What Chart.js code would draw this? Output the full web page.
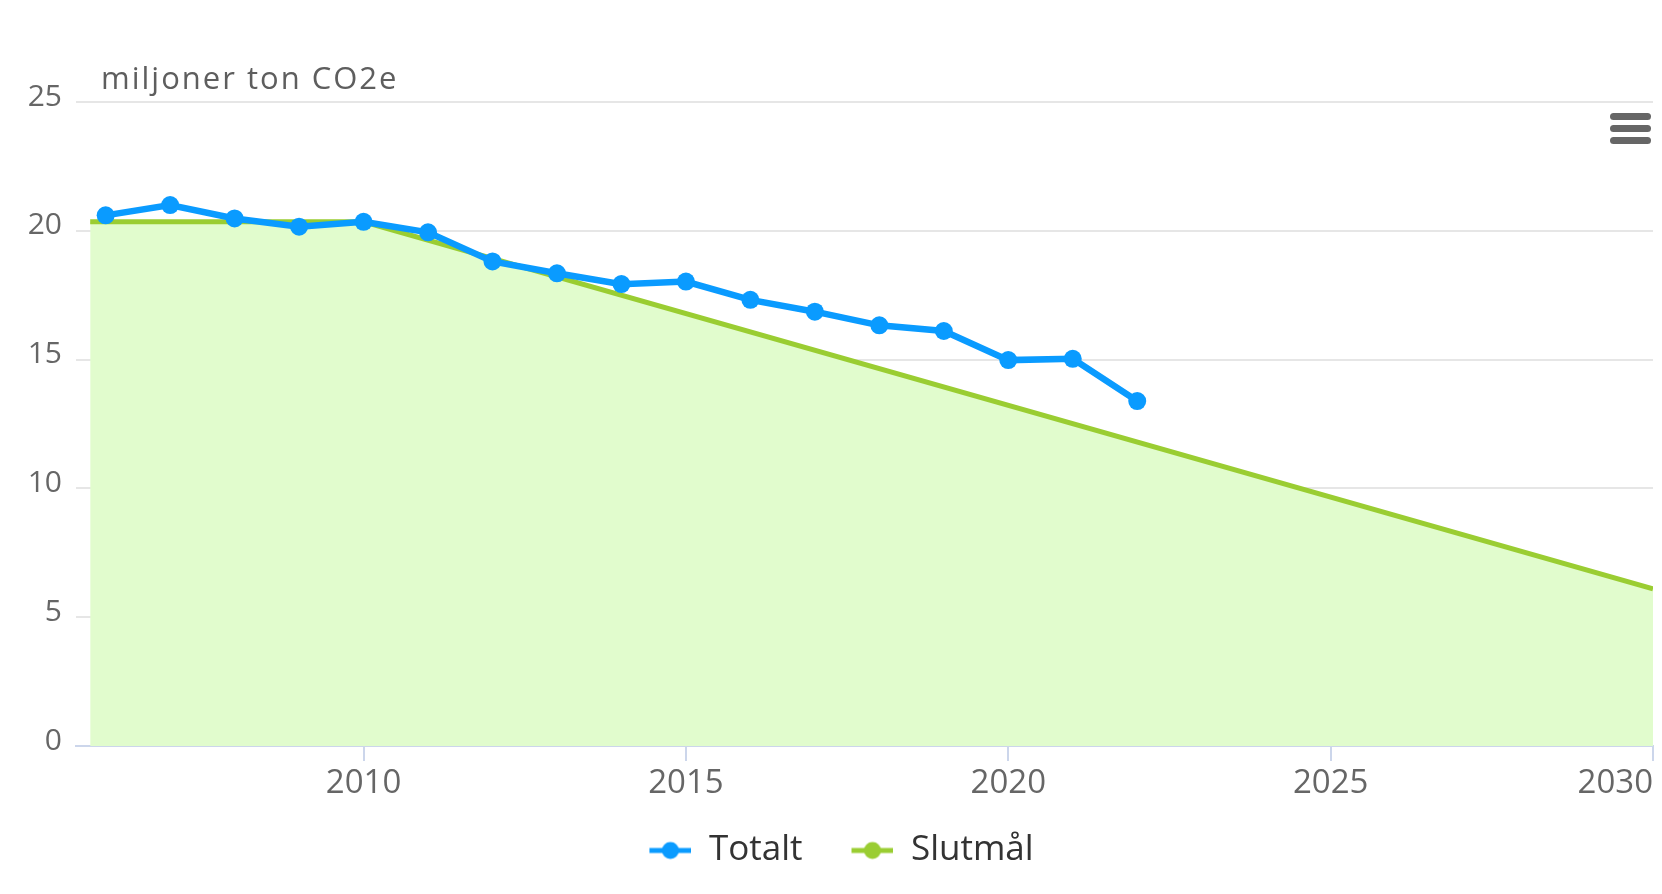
<!DOCTYPE html>
<html>
<head>
<meta charset="utf-8">
<script src="https://cdn.jsdelivr.net/npm/chart.js@4/dist/chart.umd.min.js"></script>
<style>
  body { margin: 0; background: #fff; }
  #wrap { position: relative; width: 1662px; height: 894px; }
  #menu { position: absolute; left: 1610px; top: 113px; width: 41px; }
  #menu div { height: 7px; background: #666; border-radius: 4px; margin-bottom: 5px; }
</style>
</head>
<body>
<div id="wrap">
  <canvas id="chartjs-0" width="1662" height="894"></canvas>
  <div id="menu"><div></div><div></div><div></div></div>
</div>
<script>
/* Utslapp, miljoner ton CO2e */
var yTitle = "miljoner ton CO2e";

/* Totalt - measured emissions */
var years = [2006, 2007, 2008, 2009, 2010, 2011, 2012, 2013, 2014, 2015, 2016, 2017, 2018, 2019, 2020, 2021, 2022];
var totalt = [20.6, 21.0, 20.48, 20.16, 20.35, 19.94, 18.81, 18.35, 17.93, 18.03, 17.32, 16.86, 16.33, 16.11, 14.98, 15.03, 13.39];

/* Slutmal - target path */
var goalYears = [2005.76, 2010, 2030];
var goalValues = [20.35, 20.35, 6.1];

var tickYears = [2010, 2015, 2020, 2025, 2030];
var yTicks = [0, 5, 10, 15, 20, 25];

var blue = "#0a9bff";
var green = "#9acd32";

/* legend symbols: line with a dot, like the original.
   blank space on the left gives the gap between the two legend items */
var symW = 42, symGap = 26;
function legendSymbol(color) {
  var c = document.createElement("canvas");
  c.width = symW + symGap; c.height = 20;
  var g = c.getContext("2d");
  g.strokeStyle = color; g.lineWidth = 5;
  g.beginPath(); g.moveTo(symGap, 10); g.lineTo(symGap + symW, 10); g.stroke();
  g.fillStyle = color;
  g.beginPath(); g.arc(symGap + symW / 2, 10, 8.5, 0, Math.PI * 2); g.fill();
  return c;
}
var symbols = [legendSymbol(blue), legendSymbol(green)];

var axisTitle = {
  id: "axisTitle",
  afterDraw: function (chart) {
    var ctx = chart.ctx;
    ctx.save();
    ctx.font = '31px "Open Sans"';
    ctx.fillStyle = "#5e5e5e";
    ctx.letterSpacing = "2px";
    ctx.textBaseline = "middle";
    ctx.fillText(yTitle, chart.chartArea.left + 25, chart.chartArea.top - 22);
    ctx.restore();
  }
};

Chart.defaults.font.family = '"Open Sans", sans-serif';

var ctx = document.getElementById("chartjs-0");
var myChart = new Chart(ctx, {
  type: "line",
  data: {
    datasets: [
      {
        label: "Totalt",
        data: years.map(function (y, i) { return { x: y, y: totalt[i] }; }),
        borderColor: blue,
        backgroundColor: blue,
        borderWidth: 6.5,
        pointRadius: 9,
        pointBorderWidth: 0,
        pointBackgroundColor: blue,
        tension: 0,
        fill: false
      },
      {
        label: "Slutmål",
        data: goalYears.map(function (y, i) { return { x: y, y: goalValues[i] }; }),
        borderColor: green,
        backgroundColor: "#e1fccd",
        borderWidth: 5,
        pointRadius: 0,
        tension: 0,
        fill: "origin"
      }
    ]
  },
  options: {
    responsive: false,
    animation: false,
    events: [],
    layout: { padding: { top: 102, right: 5, left: 0, bottom: 16 } },
    scales: {
      x: {
        type: "linear",
        min: 2005.54,
        max: 2030,
        afterBuildTicks: function (s) { s.ticks = tickYears.map(function (v) { return { value: v }; }); },
        afterFit: function (s) { s.height = 64; s.paddingRight = 0; s.paddingLeft = 0; },
        ticks: {
          autoSkip: false,
          maxRotation: 0,
          color: "#666666",
          font: { size: 33 },
          padding: 3,
          callback: function (v) {
            return v === 2030 ? "2030\u2007\u2007\u2007\u2007" : String(v);
          }
        },
        grid: { drawOnChartArea: false, color: "#ccd6eb", lineWidth: 2, tickLength: 15 },
        border: { color: "#ccd6eb", width: 2 }
      },
      y: {
        min: 0,
        max: 25,
        afterBuildTicks: function (s) { s.ticks = yTicks.map(function (v) { return { value: v }; }); },
        afterFit: function (s) { s.width = 76; },
        ticks: { color: "#666666", font: { size: 30 }, padding: 14, labelOffset: -5 },
        grid: { color: "#e6e6e6", lineWidth: 2, drawTicks: false },
        border: { display: false }
      }
    },
    plugins: {
      tooltip: { enabled: false },
      legend: {
        position: "bottom",
        labels: {
          color: "#333333",
          font: { size: 35 },
          usePointStyle: true,
          pointStyleWidth: symW + symGap,
          padding: 23,
          generateLabels: function (chart) {
            var items = Chart.defaults.plugins.legend.labels.generateLabels(chart);
            items.forEach(function (it, i) { it.pointStyle = symbols[i]; });
            return items;
          }
        }
      }
    }
  },
  plugins: [axisTitle]
});
</script>
</body>
</html>
